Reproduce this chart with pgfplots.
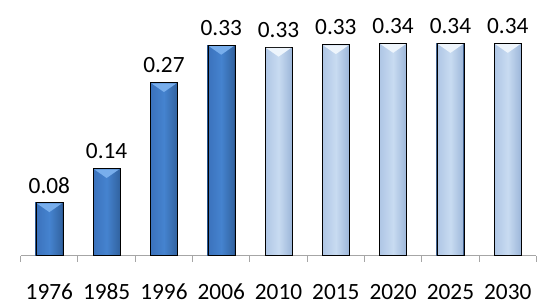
\documentclass[border=0pt]{standalone}
\usepackage{pgfplots}
\pgfplotsset{compat=1.18}
\usepackage{fontspec}
\setmainfont{Carlito}
\definecolor{dkEdge}{HTML}{2B5893}
\definecolor{dkMid}{HTML}{4583CF}
\definecolor{dkL}{HTML}{3B72BC}
\definecolor{dkR}{HTML}{31629F}
\definecolor{dkBev}{HTML}{78AEEC}
\definecolor{ltEdge}{HTML}{40618F}
\definecolor{ltMid}{HTML}{C8DBF1}
\definecolor{ltL}{HTML}{AFC6E5}
\definecolor{ltR}{HTML}{9CB6D9}
\definecolor{ltBev}{HTML}{EEF5FC}
\definecolor{axgray}{HTML}{A6A6A6}
\pgfdeclareplotmark{bevel}{%
  \pgfpathmoveto{\pgfqpoint{-12.5pt}{-0.8pt}}%
  \pgfpathlineto{\pgfqpoint{12.5pt}{-0.8pt}}%
  \pgfpathlineto{\pgfqpoint{0pt}{-9.5pt}}%
  \pgfpathclose\pgfusepathqfill}
\newcommand{\bigfont}{\fontsize{23.3}{28}\selectfont}
\pgfplotsset{
  dkbar/.style={draw=dkEdge, line width=0.7pt, left color=dkL, right color=dkR, middle color=dkMid},
  ltbar/.style={draw=ltEdge, line width=1.1pt, left color=ltL, right color=ltR, middle color=ltMid},
}
\begin{document}
\begin{tikzpicture}
\begin{axis}[
  scale only axis,
  width=515.7pt, height=252.8pt,
  xmin=-0.5, xmax=8.5, ymin=0, ymax=0.4,
  axis x line*=bottom, axis y line=none,
  x axis line style={draw=axgray, line width=1pt},
  xtick={0,...,8},
  xticklabels={1976,1985,1996,2006,2010,2015,2020,2025,2030},
  major x tick style={draw=none},
  minor xtick={-0.5,0.5,...,8.5},
  minor x tick style={draw=axgray, line width=1pt},
  minor tick length=6pt,
  tick align=outside,
  ytick=\empty,
  xticklabel style={font=\bigfont, inner sep=0pt, text height=15pt, text depth=0pt, yshift=-24.5pt, anchor=north},
  ybar, bar width=27pt, bar shift=0pt,
  nodes near coords,
  every node near coord/.append style={font=\bigfont, inner sep=0pt, yshift=9pt, anchor=south, text=black},
  /pgf/number format/.cd, fixed, fixed zerofill, precision=2, assume math mode=true,
  /pgfplots/.cd,
  clip=false,
]
\addplot[dkbar] coordinates {(0,0.084)};
\addplot[dkbar] coordinates {(1,0.138)};
\addplot[dkbar] coordinates {(2,0.274)};
\addplot[dkbar] coordinates {(3,0.333)};
\addplot[ltbar] coordinates {(4,0.330)};
\addplot[ltbar] coordinates {(5,0.334)};
\addplot[ltbar] coordinates {(6,0.336)};
\addplot[ltbar] coordinates {(7,0.336)};
\addplot[ltbar] coordinates {(8,0.336)};
\addplot[only marks, mark=bevel, mark options={fill=dkBev}, nodes near coords={}, forget plot, ybar=false]
  coordinates {(0,0.084) (1,0.138) (2,0.274) (3,0.333)};
\addplot[only marks, mark=bevel, mark options={fill=ltBev}, nodes near coords={}, forget plot, ybar=false]
  coordinates {(4,0.330) (5,0.334) (6,0.336) (7,0.336) (8,0.336)};
\path (axis cs:-0.5,0) ++(-20.7pt,-49.3pt) coordinate (bl);
\path (axis cs:-0.5,0) ++(517.3pt,255.7pt) coordinate (tr);
\end{axis}
\path[draw=none] (bl) rectangle (tr);
\end{tikzpicture}
\end{document}
